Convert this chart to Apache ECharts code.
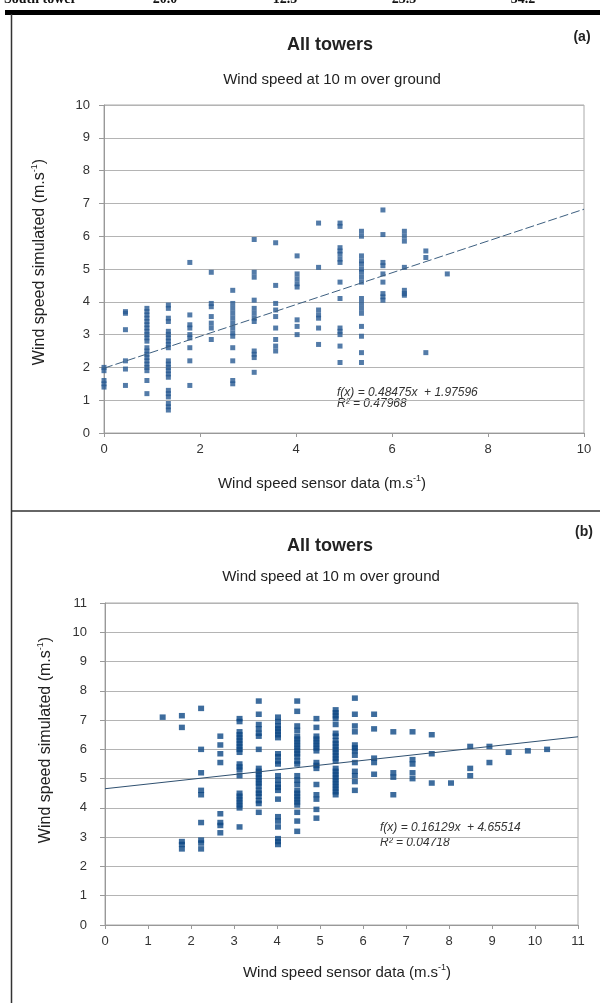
<!DOCTYPE html>
<html><head><meta charset="utf-8">
<script src="https://cdn.jsdelivr.net/npm/echarts@6/dist/echarts.min.js"></script>
<style>html,body{margin:0;padding:0;background:#fff}#c{width:600px;height:1003px}</style>
</head><body><div id="c"></div>
<script>
// ---- Panel (a) data: sensor wind speed columns and simulated values ----
const xColsA = [0, 0.447, 0.894, 1.341, 1.788, 2.235, 2.682, 3.129, 3.576, 4.023, 4.47, 4.917, 5.364, 5.811, 6.258, 6.705, 7.152];
const yColsA = [
  [2.0, 1.9, 1.6, 1.5, 1.4],
  [3.7, 3.65, 3.15, 2.2, 1.95, 1.45],
  [3.8, 3.7, 3.6, 3.5, 3.4, 3.3, 3.2, 3.1, 3.0, 2.9, 2.8, 2.6, 2.5, 2.4, 2.3, 2.2, 2.1, 2.0, 1.9, 1.6, 1.2],
  [3.9, 3.8, 3.5, 3.4, 3.1, 3.0, 2.9, 2.8, 2.7, 2.6, 2.2, 2.1, 2.0, 1.9, 1.8, 1.7, 1.3, 1.2, 1.1, 0.9, 0.8, 0.7],
  [5.2, 3.6, 3.3, 3.2, 3.0, 2.9, 2.6, 2.2, 1.45],
  [4.9, 3.95, 3.85, 3.55, 3.35, 3.2, 2.85],
  [4.35, 3.95, 3.8, 3.65, 3.5, 3.35, 3.2, 3.05, 2.95, 2.6, 2.2, 1.6, 1.5],
  [5.9, 4.9, 4.75, 4.05, 3.8, 3.65, 3.5, 3.4, 2.5, 2.4, 2.3, 1.85],
  [5.8, 4.5, 3.95, 3.75, 3.55, 3.2, 2.85, 2.65, 2.5],
  [5.4, 4.85, 4.7, 4.55, 4.45, 3.45, 3.25, 3.0],
  [6.4, 5.05, 3.75, 3.6, 3.5, 3.2, 2.7],
  [6.4, 6.3, 5.65, 5.55, 5.45, 5.3, 5.2, 4.6, 4.1, 3.2, 3.1, 3.0, 2.65, 2.15],
  [6.15, 6.0, 5.4, 5.25, 5.15, 5.0, 4.9, 4.75, 4.6, 4.1, 3.95, 3.8, 3.65, 3.25, 2.95, 2.45, 2.15],
  [6.8, 6.05, 5.2, 5.1, 4.85, 4.6, 4.25, 4.15, 4.05],
  [6.15, 6.0, 5.85, 5.05, 4.35, 4.25, 4.2],
  [5.55, 5.35, 2.45],
  [4.85]
];
const trendA = [0.48475, 1.97596]; // slope, intercept
const eqA = ["f(x) = 0.48475x  + 1.97596", "R\u00B2 = 0.47968"];
const xTicksA = [0, 10, 2];
const yTicksA = [0, 10, 1];

// ---- Panel (b) data ----
const xColsB = [1.341, 1.788, 2.235, 2.682, 3.129, 3.576, 4.023, 4.47, 4.917, 5.364, 5.811, 6.258, 6.705, 7.152, 7.599, 8.046, 8.493, 8.94, 9.387, 9.834, 10.281];
const yColsB = [
  [7.1],
  [7.15, 6.75, 2.85, 2.75, 2.6],
  [7.4, 6.0, 5.2, 4.6, 4.45, 3.5, 2.9, 2.8, 2.6],
  [6.45, 6.15, 5.85, 5.55, 3.8, 3.5, 3.4, 3.15],
  [7.05, 6.95, 6.6, 6.5, 6.4, 6.3, 6.2, 6.1, 6.0, 5.9, 5.5, 5.4, 5.3, 5.1, 4.5, 4.4, 4.3, 4.2, 4.1, 4.0, 3.35],
  [7.65, 7.2, 6.85, 6.7, 6.55, 6.45, 6.0, 5.35, 5.25, 5.15, 5.05, 4.95, 4.85, 4.75, 4.6, 4.5, 4.4, 4.25, 4.15, 3.85],
  [7.1, 6.95, 6.8, 6.7, 6.6, 6.5, 6.4, 5.85, 5.75, 5.6, 5.5, 5.1, 4.95, 4.8, 4.7, 4.6, 4.3, 3.7, 3.55, 3.35, 2.95, 2.85, 2.75],
  [7.65, 7.3, 6.8, 6.65, 6.45, 6.35, 6.25, 6.15, 6.05, 5.95, 5.85, 5.75, 5.6, 5.5, 5.1, 4.95, 4.8, 4.6, 4.5, 4.4, 4.3, 4.2, 4.1, 3.85, 3.55, 3.2],
  [7.05, 6.75, 6.45, 6.35, 6.25, 6.15, 6.05, 5.95, 5.55, 5.45, 5.35, 4.8, 4.45, 4.3, 3.95, 3.65],
  [7.35, 7.25, 7.15, 7.05, 6.85, 6.55, 6.45, 6.3, 6.2, 6.1, 6.0, 5.9, 5.8, 5.7, 5.6, 5.35, 5.25, 5.15, 5.05, 4.95, 4.85, 4.75, 4.65, 4.55, 4.45],
  [7.75, 7.2, 6.8, 6.6, 6.15, 6.05, 5.95, 5.8, 5.55, 5.25, 5.1, 4.9, 4.6],
  [7.2, 6.7, 5.7, 5.55, 5.15],
  [6.6, 5.2, 5.05, 4.45],
  [6.6, 5.65, 5.5, 5.2, 5.0],
  [6.5, 5.85, 4.85],
  [4.85],
  [6.1, 5.35, 5.1],
  [6.1, 5.55],
  [5.9],
  [5.95],
  [6.0]
];
const trendB = [0.16129, 4.65514];
const eqB = ["f(x) = 0.16129x  + 4.65514", "R\u00B2 = 0.04718"];
const xTicksB = [0, 11, 1];
const yTicksB = [0, 11, 1];

const titleText = "All towers";
const subtitleText = "Wind speed at 10 m over ground";
const xNameText = "Wind speed sensor data (m.s";
const yNameText = "Wind speed simulated (m.s";
const topRow = ["South tower", "20.0", "12.5", "23.3", "34.2"];

function flatten(xs, ys) {
  const out = [];
  xs.forEach((x, i) => ys[i].forEach(y => out.push([x, y])));
  return out;
}
function trend(coef, x0, x1) {
  return [[x0, coef[0] * x0 + coef[1]], [x1, coef[0] * x1 + coef[1]]];
}

const FONT = "'Liberation Sans', Arial, sans-serif";
const tickColor = '#333';
const gridColor = '#b4b4b4';

function xAxisCfg(gi, t) {
  return {
    type: 'value', gridIndex: gi, min: t[0], max: t[1], interval: t[2],
    splitLine: { show: false },
    axisLine: { lineStyle: { color: '#999' } },
    axisTick: { show: true, length: 4, lineStyle: { color: '#999' } },
    axisLabel: { color: tickColor, fontFamily: FONT, fontSize: 13, margin: 10 }
  };
}
function yAxisCfg(gi, t, m) {
  return {
    type: 'value', gridIndex: gi, min: t[0], max: t[1], interval: t[2],
    splitLine: { show: true, lineStyle: { color: gridColor, width: 1 } },
    axisLine: { show: true, lineStyle: { color: '#999' } },
    axisTick: { show: true, length: 5, lineStyle: { color: '#999' } },
    axisLabel: { color: tickColor, fontFamily: FONT, fontSize: 13, margin: m }
  };
}

function richSet(sz) {
  return {
    a: { fontFamily: FONT, fontSize: sz, fill: '#222', color: '#222' },
    s: { fontFamily: FONT, fontSize: 9, fill: '#222', color: '#222', verticalAlign: 'top', lineHeight: sz + 4 }
  };
}
function nameText(txt, x, y, rot, sz) {
  return {
    type: 'text', x: x, y: y, rotation: rot || 0,
    style: {
      text: '{a|' + txt + '}{s|-1}{a|)}', rich: richSet(sz),
      align: 'center', verticalAlign: 'middle'
    }
  };
}
function plain(txt, x, y, font, align, fill) {
  return { type: 'text', x: x, y: y, style: { text: txt, font: font, fill: fill || '#222', align: align || 'center', verticalAlign: 'middle' } };
}

const TOPF = "bold 14px 'Liberation Serif', serif";
const graphics = [
  // cut-off table row at the top
  plain(topRow[0], 4, -1, TOPF, 'left', '#111'),
  plain(topRow[1], 165, -1, TOPF, 'center', '#111'),
  plain(topRow[2], 285, -1, TOPF, 'center', '#111'),
  plain(topRow[3], 404, -1, TOPF, 'center', '#111'),
  plain(topRow[4], 523, -1, TOPF, 'center', '#111'),
  { type: 'rect', shape: { x: 5, y: 10, width: 600, height: 5 }, style: { fill: '#000' } },
  // panel frames
  { type: 'line', shape: { x1: 11.5, y1: 14, x2: 11.5, y2: 1003 }, style: { stroke: '#333', lineWidth: 1.5 } },
  { type: 'line', shape: { x1: 11, y1: 511, x2: 600, y2: 511 }, style: { stroke: '#333', lineWidth: 1.5 } },
  // panel a texts
  plain(titleText, 330, 45, "bold 18px " + FONT),
  plain(subtitleText, 332, 80, "15px " + FONT),
  plain('(a)', 582, 37, "bold 14px " + FONT),
  nameText(xNameText, 322, 484, 0, 15),
  nameText(yNameText, 40, 262, Math.PI / 2, 16),
  plain(eqA[0], 337, 393, "italic 12px " + FONT, 'left', '#333'),
  plain(eqA[1], 337, 404, "italic 12px " + FONT, 'left', '#333'),
  // panel b texts
  plain(titleText, 330, 546, "bold 18px " + FONT),
  plain(subtitleText, 331, 577, "15px " + FONT),
  plain('(b)', 584, 532, "bold 14px " + FONT),
  nameText(xNameText, 347, 973, 0, 15),
  nameText(yNameText, 46, 740, Math.PI / 2, 16),
  plain(eqB[0], 380, 828, "italic 12px " + FONT, 'left', '#333'),
  plain(eqB[1], 380, 843, "italic 12px " + FONT, 'left', '#333')
];

const chart = echarts.init(document.getElementById('c'), null, { renderer: 'canvas' });
chart.setOption({
  animation: false,
  backgroundColor: '#fff',
  grid: [
    { left: 104, width: 480, top: 105, height: 328, show: true, borderColor: '#aaa', borderWidth: 1 },
    { left: 105, width: 473, top: 603, height: 322, show: true, borderColor: '#aaa', borderWidth: 1 }
  ],
  xAxis: [xAxisCfg(0, xTicksA), xAxisCfg(1, xTicksB)],
  yAxis: [yAxisCfg(0, yTicksA, 14), yAxisCfg(1, yTicksB, 18)],
  series: [
    { type: 'scatter', xAxisIndex: 0, yAxisIndex: 0, symbol: 'rect', symbolSize: [5, 5],
      itemStyle: { color: '#285a92' }, data: flatten(xColsA, yColsA), z: 3 },
    { type: 'line', xAxisIndex: 0, yAxisIndex: 0, symbol: 'none', data: trend(trendA, 0, 10),
      lineStyle: { color: '#3d5f80', width: 1, type: [9, 3] }, z: 4 },
    { type: 'scatter', xAxisIndex: 1, yAxisIndex: 1, symbol: 'rect', symbolSize: [6, 5.5],
      itemStyle: { color: '#0c4784' }, data: flatten(xColsB, yColsB), z: 3 },
    { type: 'line', xAxisIndex: 1, yAxisIndex: 1, symbol: 'none', data: trend(trendB, 0, 11),
      lineStyle: { color: '#2f5070', width: 1 }, z: 4 }
  ],
  graphic: graphics
});
</script></body></html>
